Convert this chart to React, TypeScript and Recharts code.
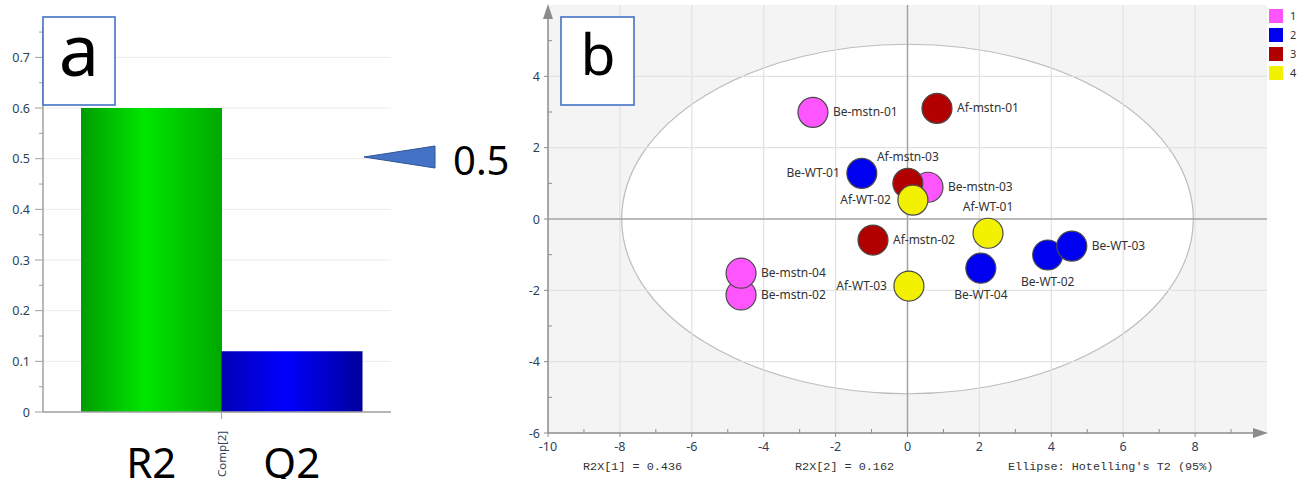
import {
  BarChart, Bar, XAxis, YAxis, CartesianGrid, Cell,
  ScatterChart, Scatter, ReferenceArea, ReferenceLine,
} from 'recharts';

// panel a: model fit
const fitNames = ['R2', 'Q2'];
const fitValues = [0.6, 0.12];
const fitMajorTicks = [0, 0.1, 0.2, 0.3, 0.4, 0.5, 0.6, 0.7];
const fitMinorTicks = [0.05, 0.15, 0.25, 0.35, 0.45, 0.55, 0.65, 0.75];
const fitComponent = 'Comp[2]';
const fitMarker = '0.5';

// panel b: score plot
const sampleNames = [
  'Be-mstn-01', 'Be-mstn-03', 'Be-mstn-02', 'Be-mstn-04',
  'Be-WT-01', 'Be-WT-02', 'Be-WT-03', 'Be-WT-04',
  'Af-mstn-01', 'Af-mstn-02', 'Af-mstn-03',
  'Af-WT-01', 'Af-WT-02', 'Af-WT-03',
];
const sampleX = [-2.63, 0.57, -4.63, -4.63, -1.27, 3.9, 4.57, 2.04, 0.82, -0.96, 0.01, 2.24, 0.15, 0.04];
const sampleY = [2.99, 0.89, -2.13, -1.52, 1.28, -1.01, -0.76, -1.38, 3.1, -0.59, 1.0, -0.4, 0.53, -1.88];
const sampleGroup = [1, 1, 1, 1, 2, 2, 2, 2, 3, 3, 3, 4, 4, 4];
const groupIds = [1, 2, 3, 4];
const groupColors = ['#ff55ff', '#0000f0', '#b20000', '#f2f200'];
const labelSide: Record<string, string> = {
  'Be-WT-01': 'left', 'Af-WT-02': 'left', 'Af-WT-03': 'left',
  'Af-mstn-03': 'top', 'Af-WT-01': 'top',
  'Be-WT-02': 'bottom', 'Be-WT-04': 'bottom',
};
const xMajorTicks = [-10, -8, -6, -4, -2, 0, 2, 4, 6, 8];
const xMinorTicks = [-9, -7, -5, -3, -1, 1, 3, 5, 7, 9];
const yMajorTicks = [-6, -4, -2, 0, 2, 4];
const yMinorTicks = [-5, -3, -1, 1, 3, 5];
const gridX = [-8, -6, -4, -2, 2, 4, 6, 8];
const gridY = [-4, -2, 2, 4];
const ellipseRx = 7.95;
const ellipseRy = 4.9;
const footnotes = ['R2X[1] = 0.436', 'R2X[2] = 0.162', "Ellipse: Hotelling's T2 (95%)"];

const fitData = fitNames.map((name, i) => ({ name, value: fitValues[i] }));
const samples = sampleNames.map((name, i) => ({ name, x: sampleX[i], y: sampleY[i], group: sampleGroup[i] }));

const TICK_COLOR = '#2b3f5c';
const LABEL_FONT = '"Noto Sans", "Open Sans", sans-serif';
const FIT_BAND = (391 - 43 - 38 - 29) / 2;

function FitYTick({ x, y, payload }: any) {
  const major = fitMajorTicks.includes(payload.value);
  return (
    <g>
      <line x1={x - (major ? 8 : 4)} x2={x} y1={y} y2={y} stroke="#a0a0a0" />
      {major && (
        <text x={x - 13} y={y + 4.5} textAnchor="end" fontSize={12.5} fontFamily={LABEL_FONT} fill={TICK_COLOR}>
          {payload.value}
        </text>
      )}
    </g>
  );
}

function FitXTick({ x, y, payload, index }: any) {
  const edge = x + FIT_BAND / 2;
  return (
    <g>
      <text x={x} y={478} textAnchor="middle" fontSize={42} fontFamily={LABEL_FONT} fill="#000">
        {payload.value}
      </text>
      {index === 0 && (
        <g>
          <line x1={edge} x2={edge} y1={y} y2={y + 7} stroke="#a0a0a0" />
          <text
            transform={`translate(${edge + 4},477) rotate(-90)`}
            fontSize={11.5}
            fontFamily={LABEL_FONT}
            fill={TICK_COLOR}
          >
            {fitComponent}
          </text>
        </g>
      )}
    </g>
  );
}

function ScoreYTick({ x, y, payload }: any) {
  const major = yMajorTicks.includes(payload.value);
  return (
    <g>
      <line x1={major ? x - 4 : x} x2={major ? x : x + 4} y1={y} y2={y} stroke="#8c8c8c" />
      {major && (
        <text x={x - 8} y={y + 4.5} textAnchor="end" fontSize={12.5} fontFamily={LABEL_FONT} fill={TICK_COLOR}>
          {payload.value}
        </text>
      )}
    </g>
  );
}

function ScoreXTick({ x, y, payload }: any) {
  const major = xMajorTicks.includes(payload.value);
  return (
    <g>
      <line x1={x} x2={x} y1={major ? y : y - 4} y2={major ? y + 4 : y} stroke="#8c8c8c" />
      {major && (
        <text x={x} y={y + 18} textAnchor="middle" fontSize={12.5} fontFamily={LABEL_FONT} fill={TICK_COLOR}>
          {payload.value}
        </text>
      )}
    </g>
  );
}

function Ellipse({ x, y, width, height }: any) {
  return (
    <ellipse
      cx={x + width / 2}
      cy={y + height / 2}
      rx={width / 2}
      ry={height / 2}
      fill="#ffffff"
      stroke="#bdbdbd"
      strokeWidth={1.2}
    />
  );
}

function makeDot(color: string) {
  return (props: any) => {
    const { cx, cy, payload } = props;
    const side = labelSide[payload.name] || 'right';
    let tx = cx + 20;
    let ty = cy + 4;
    let anchor = 'start';
    if (side === 'left') { tx = cx - 22; anchor = 'end'; }
    if (side === 'top') { tx = cx; ty = cy - 22; anchor = 'middle'; }
    if (side === 'bottom') { tx = cx; ty = cy + 31; anchor = 'middle'; }
    return (
      <g>
        <circle cx={cx} cy={cy} r={15} fill={color} stroke="#4a4a4a" strokeWidth={1.2} />
        <text x={tx} y={ty} textAnchor={anchor} fontSize={12} fontFamily={LABEL_FONT} fill="#333">
          {payload.name}
        </text>
      </g>
    );
  };
}

export default function App() {
  return (
    <div style={{ position: 'absolute', left: 0, top: 0, width: 1309, height: 479, background: '#fff', overflow: 'hidden' }}>
      <div style={{ position: 'absolute', left: 0, top: 0 }}>
        <BarChart width={400} height={479} data={fitData} barCategoryGap={0} margin={{ top: 27, right: 9, left: 0, bottom: 7 }}>
          <defs>
            <linearGradient id="fitGreen" x1="0" y1="0" x2="1" y2="0">
              <stop offset="0%" stopColor="#009c00" />
              <stop offset="45%" stopColor="#00e600" />
              <stop offset="100%" stopColor="#00a800" />
            </linearGradient>
            <linearGradient id="fitBlue" x1="0" y1="0" x2="1" y2="0">
              <stop offset="0%" stopColor="#0000b4" />
              <stop offset="45%" stopColor="#0000ff" />
              <stop offset="100%" stopColor="#00009c" />
            </linearGradient>
          </defs>
          <CartesianGrid horizontal vertical={false} horizontalValues={fitMajorTicks} stroke="#ebebeb" />
          <XAxis
            dataKey="name"
            height={60}
            padding={{ left: 38, right: 29 }}
            tickLine={false}
            tickSize={0}
            tickMargin={0}
            axisLine={{ stroke: '#a0a0a0', strokeWidth: 1.5 }}
            tick={FitXTick}
            interval={0}
          />
          <YAxis
            width={43}
            domain={[0, 0.76]}
            ticks={[...fitMajorTicks, ...fitMinorTicks].sort((a, b) => a - b)}
            interval={0}
            tickLine={false}
            tickSize={0}
            tickMargin={0}
            axisLine={{ stroke: '#a0a0a0', strokeWidth: 1.5 }}
            tick={FitYTick}
          />
          <Bar dataKey="value" isAnimationActive={false}>
            {fitData.map((d, i) => (
              <Cell key={d.name} fill={i === 0 ? 'url(#fitGreen)' : 'url(#fitBlue)'} />
            ))}
          </Bar>
        </BarChart>
      </div>

      <div style={{ position: 'absolute', left: 500, top: 0 }}>
        <ScatterChart width={809} height={479} margin={{ top: 5, right: 42, left: 0, bottom: 6 }}>
          <CartesianGrid horizontal={false} vertical={false} fill="#f4f4f4" stroke="none" />
          <XAxis
            type="number"
            dataKey="x"
            domain={[-10, 10]}
            ticks={[...xMajorTicks, ...xMinorTicks].sort((a, b) => a - b)}
            interval={0}
            height={40}
            tickLine={false}
            tickSize={0}
            tickMargin={0}
            axisLine={false}
            tick={ScoreXTick}
          />
          <YAxis
            type="number"
            dataKey="y"
            domain={[-6, 6]}
            ticks={[...yMajorTicks, ...yMinorTicks].sort((a, b) => a - b)}
            interval={0}
            width={48}
            tickLine={false}
            tickSize={0}
            tickMargin={0}
            axisLine={false}
            tick={ScoreYTick}
          />
          <ReferenceArea x1={-ellipseRx} x2={ellipseRx} y1={-ellipseRy} y2={ellipseRy} shape={Ellipse} />
          {gridX.map((v) => (
            <ReferenceLine key={`gx${v}`} x={v} stroke="#e2e2e2" strokeWidth={1.2} />
          ))}
          {gridY.map((v) => (
            <ReferenceLine key={`gy${v}`} y={v} stroke="#e2e2e2" strokeWidth={1.2} />
          ))}
          <ReferenceLine x={0} stroke="#a3a3a3" strokeWidth={1.5} />
          <ReferenceLine y={0} stroke="#a3a3a3" strokeWidth={1.5} />
          {groupIds.map((g, i) => (
            <Scatter
              key={g}
              name={String(g)}
              data={samples.filter((s) => s.group === g)}
              shape={makeDot(groupColors[i])}
              isAnimationActive={false}
            />
          ))}
        </ScatterChart>
      </div>

      <svg width={1309} height={479} style={{ position: 'absolute', left: 0, top: 0, pointerEvents: 'none' }}>
        {/* panel tags */}
        <rect x={43} y={17} width={72} height={88} fill="#fff" stroke="#4472c4" strokeWidth={1.6} />
        <text x={79} y={76} textAnchor="middle" fontSize={72} fontFamily={LABEL_FONT} fill="#000">a</text>
        <rect x={561} y={17} width={73} height={88} fill="#fff" stroke="#4472c4" strokeWidth={1.6} />
        <text x={598} y={75} textAnchor="middle" fontSize={57} fontFamily={LABEL_FONT} fill="#000">b</text>
        {/* threshold marker */}
        <polygon points="364,157 435,146 435,168" fill="#4472c4" stroke="#2f5597" strokeWidth={1} />
        <text x={453} y={175} fontSize={40} fontFamily={LABEL_FONT} fill="#000">{fitMarker}</text>
        {/* score plot axes with arrows */}
        <line x1={548} y1={433} x2={548} y2={16} stroke="#8c8c8c" strokeWidth={1.5} />
        <polygon points="543,19 553,19 548,4" fill="#8c8c8c" />
        <line x1={548} y1={433} x2={1256} y2={433} stroke="#8c8c8c" strokeWidth={1.5} />
        <polygon points="1253,428 1253,438 1268,433" fill="#8c8c8c" />
        {/* footnotes */}
        <text x={583} y={470} fontSize={11.8} fontFamily='"Liberation Mono", monospace' fill="#333">{footnotes[0]}</text>
        <text x={795} y={470} fontSize={11.8} fontFamily='"Liberation Mono", monospace' fill="#333">{footnotes[1]}</text>
        <text x={1008} y={470} fontSize={11.8} fontFamily='"Liberation Mono", monospace' fill="#333">{footnotes[2]}</text>
      </svg>

      <div style={{ position: 'absolute', left: 1269, top: 6, fontFamily: LABEL_FONT, fontSize: 11, color: '#333' }}>
        {groupIds.map((g, i) => (
          <div key={g} style={{ display: 'flex', alignItems: 'center', height: 19 }}>
            <div style={{ width: 14, height: 14, background: groupColors[i] }} />
            <span style={{ marginLeft: 7 }}>{g}</span>
          </div>
        ))}
      </div>
    </div>
  );
}
